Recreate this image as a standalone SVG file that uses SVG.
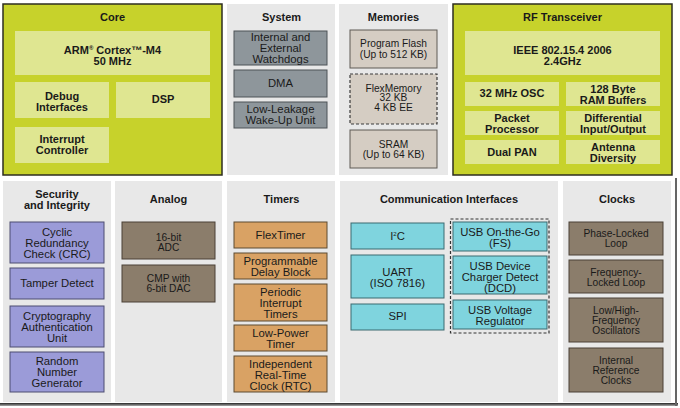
<svg xmlns="http://www.w3.org/2000/svg" width="680" height="408" viewBox="0 0 680 408">
<defs>
<linearGradient id="shadowB" x1="0" y1="0" x2="0" y2="1">
<stop offset="0" stop-color="#222"/><stop offset="1" stop-color="#aaa"/>
</linearGradient>
<style>
.panel{fill:#e8e8e8}
.lime{fill:#c7d22b;stroke:#2e2e20;stroke-width:1.5}
.lt{fill:#dfe691}
.sys{fill:#8e969b;stroke:#4d5256;stroke-width:1}
.mem{fill:#d5cdc3;stroke:#5e5a55;stroke-width:1}
.memd{fill:#d5cdc3;stroke:#3a3a3a;stroke-width:1.2;stroke-dasharray:3 2}
.sec{fill:#9b9bd8;stroke:#4c4c70;stroke-width:1}
.brn{fill:#8b7d6b;stroke:#4a4136;stroke-width:1}
.org{fill:#d9a264;stroke:#5d4a30;stroke-width:1}
.cyn{fill:#7fd4de;stroke:#3b6a70;stroke-width:1}
.grp{fill:none;stroke:#333;stroke-width:1.2;stroke-dasharray:3 2}
text{font-family:"Liberation Sans",Arial,sans-serif;fill:#1a1a1a;text-anchor:middle}
.t{font-size:11px;font-weight:bold}
.b{font-size:11px;font-weight:bold}
.r{font-size:11.3px}
.s{font-size:10.2px}
</style>
</defs>
<rect width="680" height="408" fill="#fff"/>

<g id="core">
<rect class="lime" x="3" y="4" width="219" height="171"/>
<text class="t" x="112.5" y="21">Core</text>
<g id="arm"><rect class="lt" x="15" y="31" width="195" height="44"/>
<text class="b" x="112.5" y="54">ARM<tspan font-size="6" dy="-4">®</tspan><tspan dy="4"> Cortex™-M4</tspan></text>
<text class="b" x="112.5" y="65">50 MHz</text></g>
<g id="debug"><rect class="lt" x="15" y="82" width="94" height="36"/>
<text class="b" x="62" y="100">Debug</text><text class="b" x="62" y="110.5">Interfaces</text></g>
<g id="dsp"><rect class="lt" x="116" y="82" width="94" height="36"/>
<text class="b" x="163" y="103">DSP</text></g>
<g id="interrupt"><rect class="lt" x="15" y="127" width="94" height="36"/>
<text class="b" x="62" y="143">Interrupt</text><text class="b" x="62" y="154">Controller</text></g>
</g>

<g id="system">
<rect class="panel" x="227" y="4" width="108" height="171"/>
<text class="t" x="281.5" y="21">System</text>
<g id="watchdogs"><rect class="sys" x="234" y="31" width="93" height="34"/>
<text class="r" x="280.5" y="41">Internal and</text><text class="r" x="280.5" y="52">External</text><text class="r" x="280.5" y="63">Watchdogs</text></g>
<g id="dma"><rect class="sys" x="234" y="70" width="93" height="27"/>
<text class="r" x="280.5" y="87">DMA</text></g>
<g id="lowleak"><rect class="sys" x="234" y="102" width="93" height="26"/>
<text class="r" x="280.5" y="113">Low-Leakage</text><text class="r" x="280.5" y="123.5">Wake-Up Unit</text></g>
</g>

<g id="memories">
<rect class="panel" x="339" y="4" width="109" height="171"/>
<text class="t" x="393.5" y="21">Memories</text>
<g id="flash"><rect class="mem" x="350" y="30" width="87" height="38"/>
<text class="s" x="393.5" y="47">Program Flash</text><text class="s" x="393.5" y="58">(Up to 512 KB)</text></g>
<g id="flexmem"><rect class="memd" x="350" y="74" width="87" height="50"/>
<text class="s" x="393.5" y="91.5">FlexMemory</text><text class="s" x="393.5" y="101">32 KB</text><text class="s" x="393.5" y="110.5">4 KB EE</text></g>
<g id="sram"><rect class="mem" x="350" y="130" width="87" height="38"/>
<text class="s" x="393.5" y="148">SRAM</text><text class="s" x="393.5" y="158">(Up to 64 KB)</text></g>
</g>

<g id="rf">
<rect class="lime" x="453" y="4" width="219" height="171"/>
<text class="t" x="562.5" y="21">RF Transceiver</text>
<g id="ieee"><rect class="lt" x="465" y="31" width="195" height="44"/>
<text class="b" x="562.5" y="54">IEEE 802.15.4 2006</text><text class="b" x="562.5" y="65">2.4GHz</text></g>
<g id="osc"><rect class="lt" x="465" y="82" width="94" height="24"/>
<text class="b" x="512" y="97">32 MHz OSC</text></g>
<g id="ram"><rect class="lt" x="566" y="82" width="94" height="24"/>
<text class="b" x="613" y="93">128 Byte</text><text class="b" x="613" y="104">RAM Buffers</text></g>
<g id="packet"><rect class="lt" x="465" y="111" width="94" height="24"/>
<text class="b" x="512" y="121.5">Packet</text><text class="b" x="512" y="132.5">Processor</text></g>
<g id="diff"><rect class="lt" x="566" y="111" width="94" height="24"/>
<text class="b" x="613" y="121.5">Differential</text><text class="b" x="613" y="132.5">Input/Output</text></g>
<g id="dualpan"><rect class="lt" x="465" y="140" width="94" height="24"/>
<text class="b" x="512" y="156">Dual PAN</text></g>
<g id="antenna"><rect class="lt" x="566" y="140" width="94" height="24"/>
<text class="b" x="613" y="151">Antenna</text><text class="b" x="613" y="162">Diversity</text></g>
</g>

<g id="security">
<rect class="panel" x="3" y="181" width="108" height="221"/>
<text class="t" x="57" y="198">Security</text><text class="t" x="57" y="209">and Integrity</text>
<g id="crc"><rect class="sec" x="10" y="222" width="94" height="41"/>
<text class="r" x="57" y="236">Cyclic</text><text class="r" x="57" y="247">Redundancy</text><text class="r" x="57" y="258">Check (CRC)</text></g>
<g id="tamper"><rect class="sec" x="10" y="268" width="94" height="31"/>
<text class="r" x="57" y="287">Tamper Detect</text></g>
<g id="crypto"><rect class="sec" x="10" y="306" width="94" height="41"/>
<text class="r" x="57" y="320">Cryptography</text><text class="r" x="57" y="331">Authentication</text><text class="r" x="57" y="341.5">Unit</text></g>
<g id="rng"><rect class="sec" x="10" y="352" width="94" height="40"/>
<text class="r" x="57" y="365">Random</text><text class="r" x="57" y="376">Number</text><text class="r" x="57" y="387">Generator</text></g>
</g>

<g id="analog">
<rect class="panel" x="115" y="181" width="107" height="221"/>
<text class="t" x="168.5" y="203">Analog</text>
<g id="adc"><rect class="brn" x="122" y="222" width="93" height="37"/>
<text class="s" x="168.5" y="241">16-bit</text><text class="s" x="168.5" y="250.5">ADC</text></g>
<g id="cmp"><rect class="brn" x="122" y="265" width="93" height="37"/>
<text class="s" x="168.5" y="282">CMP with</text><text class="s" x="168.5" y="292">6-bit DAC</text></g>
</g>

<g id="timers">
<rect class="panel" x="227" y="181" width="108" height="221"/>
<text class="t" x="281.5" y="203">Timers</text>
<g id="flextimer"><rect class="org" x="234" y="222" width="93" height="26"/>
<text class="r" x="280.5" y="239">FlexTimer</text></g>
<g id="pdb"><rect class="org" x="234" y="253" width="93" height="26"/>
<text class="r" x="280.5" y="265">Programmable</text><text class="r" x="280.5" y="276">Delay Block</text></g>
<g id="pit"><rect class="org" x="234" y="284" width="93" height="37"/>
<text class="r" x="280.5" y="296">Periodic</text><text class="r" x="280.5" y="307">Interrupt</text><text class="r" x="280.5" y="317.5">Timers</text></g>
<g id="lptimer"><rect class="org" x="234" y="325" width="93" height="26"/>
<text class="r" x="280.5" y="337">Low-Power</text><text class="r" x="280.5" y="347.5">Timer</text></g>
<g id="rtc"><rect class="org" x="234" y="356" width="93" height="36"/>
<text class="r" x="280.5" y="368">Independent</text><text class="r" x="280.5" y="379">Real-Time</text><text class="r" x="280.5" y="390">Clock (RTC)</text></g>
</g>

<g id="comms">
<rect class="panel" x="340" y="181" width="218" height="221"/>
<text class="t" x="449" y="203">Communication Interfaces</text>
<g id="i2c"><rect class="cyn" x="351" y="223" width="93" height="26"/>
<text class="r" x="397.5" y="240">I<tspan font-size="6" dy="-4">2</tspan><tspan dy="4">C</tspan></text></g>
<g id="uart"><rect class="cyn" x="351" y="255" width="93" height="43"/>
<text class="r" x="397.5" y="276">UART</text><text class="r" x="397.5" y="287">(ISO 7816)</text></g>
<g id="spi"><rect class="cyn" x="351" y="304" width="93" height="26"/>
<text class="r" x="397.5" y="320">SPI</text></g>
<g id="usbgroup"><rect class="grp" x="450.5" y="219" width="98.5" height="114"/>
<g id="usbotg"><rect class="cyn" x="453" y="222" width="94" height="29"/>
<text class="r" x="500" y="236">USB On-the-Go</text><text class="r" x="500" y="247">(FS)</text></g>
<g id="usbdcd"><rect class="cyn" x="453" y="256" width="94" height="38"/>
<text class="r" x="500" y="270">USB Device</text><text class="r" x="500" y="281">Charger Detect</text><text class="r" x="500" y="292">(DCD)</text></g>
<g id="usbvreg"><rect class="cyn" x="453" y="300" width="94" height="29"/>
<text class="r" x="500" y="314">USB Voltage</text><text class="r" x="500" y="325">Regulator</text></g>
</g>
</g>

<g id="clocks">
<rect class="panel" x="563" y="181" width="108" height="221"/>
<text class="t" x="617" y="203">Clocks</text>
<g id="pll"><rect class="brn" x="569" y="222" width="94" height="33"/>
<text class="s" x="616" y="237">Phase-Locked</text><text class="s" x="616" y="247">Loop</text></g>
<g id="fll"><rect class="brn" x="569" y="260" width="94" height="33"/>
<text class="s" x="616" y="276">Frequency-</text><text class="s" x="616" y="285.5">Locked Loop</text></g>
<g id="osc2"><rect class="brn" x="569" y="298" width="94" height="44"/>
<text class="s" x="616" y="314">Low/High-</text><text class="s" x="616" y="324">Frequency</text><text class="s" x="616" y="334">Oscillators</text></g>
<g id="irc"><rect class="brn" x="569" y="348" width="94" height="44"/>
<text class="s" x="616" y="364">Internal</text><text class="s" x="616" y="374">Reference</text><text class="s" x="616" y="384">Clocks</text></g>
</g>

<rect x="0" y="403" width="678" height="3" fill="url(#shadowB)"/>
<rect x="675" y="178" width="2" height="228" fill="#666"/>
</svg>
